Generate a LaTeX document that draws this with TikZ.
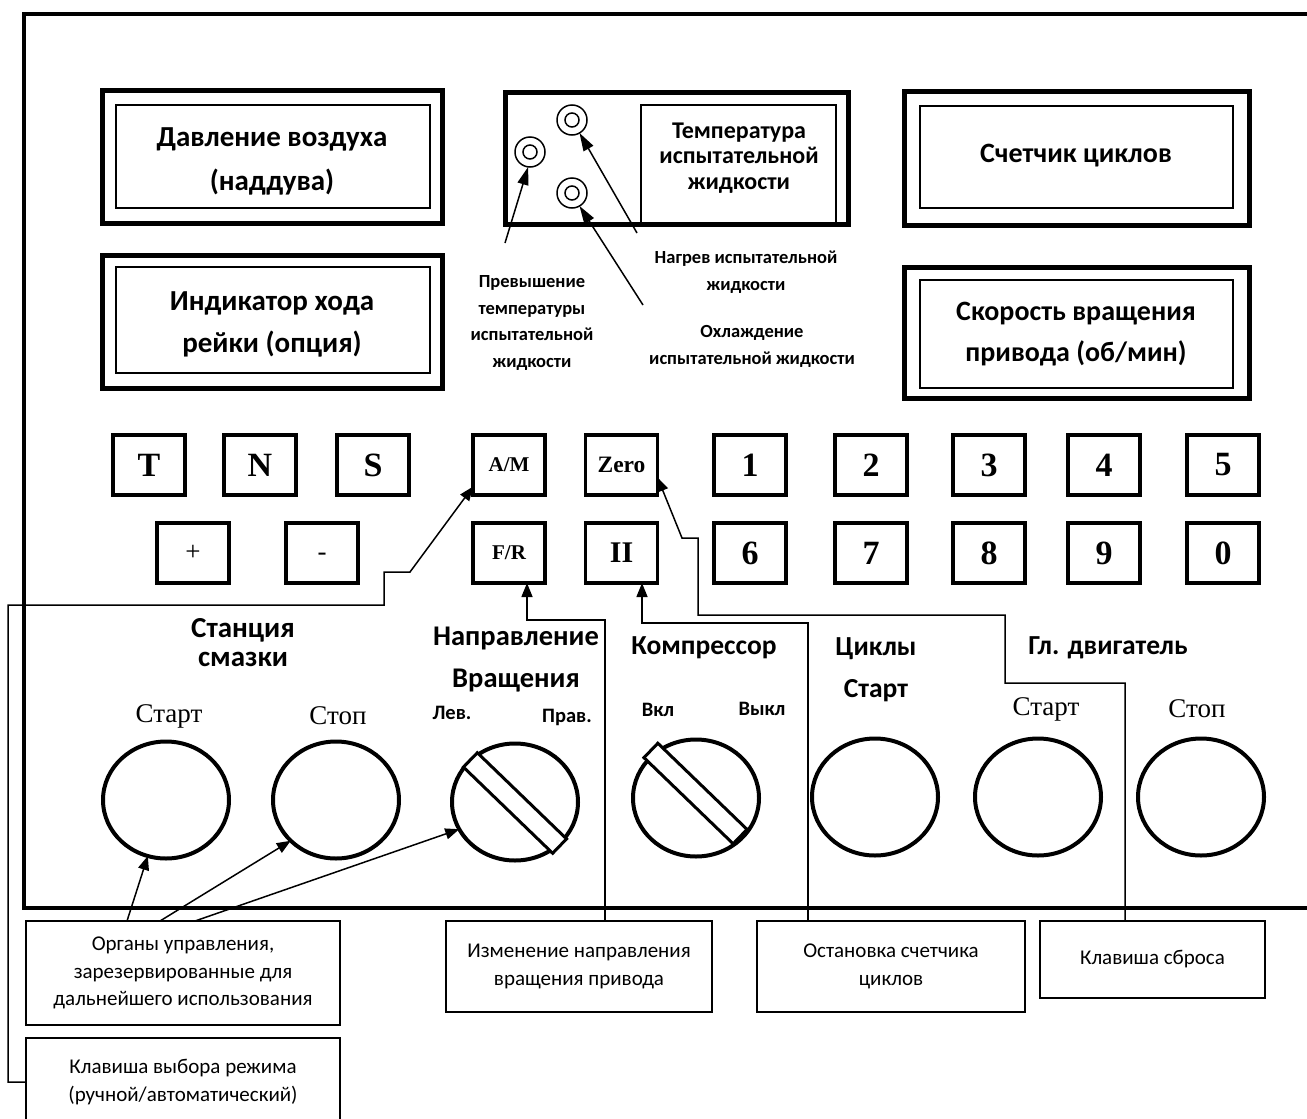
\documentclass[tikz,border=0pt]{standalone}
\usepackage{fontspec}
\setmainfont{Carlito}
\newfontfamily\serif{Liberation Serif}
\usetikzlibrary{arrows.meta,calc,shapes.geometric}
\begin{document}
\begin{tikzpicture}[x=1pt,y=-1pt,
  every node/.style={inner sep=0pt,outer sep=0pt},
  dispout/.style={draw,line width=5pt},
  dispin/.style={draw,line width=1.5pt},
  headtxt/.style={align=center,font=\bfseries\fontsize{29}{44}\selectfont},
  smalltxt/.style={align=center,font=\bfseries\fontsize{18.5}{27}\selectfont},
  key/.style={draw,line width=3.5pt,minimum width=72pt,minimum height=60pt},
  bigkey/.style={key,font=\serif\bfseries\fontsize{34}{34}\selectfont},
  midkey/.style={key,font=\serif\bfseries\fontsize{21}{21}\selectfont},
  pmtxt/.style={anchor=base,font=\serif\fontsize{27}{27}\selectfont},
  knob/.style={draw,ellipse,line width=4pt,minimum width=126pt,minimum height=117pt},
  slot/.style={draw,fill=white,line width=3pt,minimum width=124pt,minimum height=20pt,rotate=-44},
  lamp/.style={draw,circle,line width=1.5pt},
  grouptxt/.style={align=center,font=\bfseries\fontsize{27.5}{29}\selectfont},
  sertxt/.style={font=\serif\fontsize{27}{27}\selectfont},
  postxt/.style={font=\bfseries\fontsize{20.5}{20.5}\selectfont},
  note/.style={draw,line width=2pt,align=center,font=\fontsize{21}{27.5}\selectfont},
  conn/.style={line width=1.5pt},
  arr/.style={conn,-{Triangle[length=14pt,width=11pt]}},
  bigarr/.style={conn,-{Triangle[length=18pt,width=11pt]}}
]
\useasboundingbox (0,0) rectangle (1307,1119);
% panel frame
\draw[line width=4pt] (24,14) rectangle (1345,908);

% displays
\node[dispout,minimum width=340pt,minimum height=133pt] (d1o) at (272,156.5) {};
\node[dispin,minimum width=314pt,minimum height=103pt] (d1i) at (273,156.5) {};
\node[headtxt] (d1t) at (272,161) {Давление воздуха\\(наддува)};

\node[dispout,minimum width=340pt,minimum height=133pt] (d2o) at (272,321.5) {};
\node[dispin,minimum width=314pt,minimum height=106pt] (d2i) at (273,320) {};
\node[headtxt,font=\bfseries\fontsize{29}{42}\selectfont] (d2t) at (272,324) {Индикатор хода\\рейки (опция)};

\node[dispout,minimum width=345pt,minimum height=134pt] (d3o) at (1076.5,158) {};
\node[dispin,minimum width=313pt,minimum height=102pt] (d3i) at (1076.5,157) {};
\node[headtxt,font=\bfseries\fontsize{28}{44}\selectfont] (d3t) at (1076,156) {Счетчик циклов};

\node[dispout,minimum width=345pt,minimum height=131pt] (d4o) at (1076.5,332.5) {};
\node[dispin,minimum width=313pt,minimum height=108pt] (d4i) at (1076.5,334) {};
\node[headtxt,font=\bfseries\fontsize{28}{41}\selectfont] (d4t) at (1076,334) {Скорость вращения\\привода (об/мин)};

% temperature display
\node[dispout,minimum width=343pt,minimum height=132pt] (tdo) at (676.5,158) {};
\node[dispin,minimum width=195pt,minimum height=119pt] (tdi) at (738.5,164.5) {};
\node[align=center,font=\bfseries\fontsize{24}{25.5}\selectfont] (tdt) at (739,158) {Температура\\испытательной\\жидкости};

\node[lamp,minimum size=30pt] (c1) at (530,152) {};
\node[lamp,minimum size=14pt] (c1i) at (530,152) {};
\node[lamp,minimum size=30pt] (c2) at (572,120) {};
\node[lamp,minimum size=14pt] (c2i) at (572,120) {};
\node[lamp,minimum size=30pt] (c3) at (572,193) {};
\node[lamp,minimum size=14pt] (c3i) at (572,193) {};

\coordinate (pa) at (505,243);
\coordinate (pb) at (637,233);
\coordinate (pc) at (643,305);
\draw[bigarr] (pa) -- (c1.263);
\draw[bigarr] (pb) -- (c2.-60);
\draw[bigarr] (pc) -- (c3.-60);

\node[smalltxt,font=\bfseries\fontsize{18.5}{26.7}\selectfont] (l1) at (532,323) {Превышение\\температуры\\испытательной\\жидкости};
\node[smalltxt] (l2) at (746,272) {Нагрев испытательной\\жидкости};
\node[smalltxt] (l3) at (752,346) {Охлаждение\\испытательной жидкости};

% keys row 1
\node[bigkey] (kT) at (149,465) {T};
\node[bigkey] (kN) at (260,465) {N};
\node[bigkey] (kS) at (373,465) {S};
\node[midkey] (am) at (509,465) {A/M};
\node[midkey,font=\serif\bfseries\fontsize{23.5}{23.5}\selectfont] (zero) at (621.5,465) {Zero};
\node[bigkey] (k1) at (750,465) {1};
\node[bigkey] (k2) at (871,465) {2};
\node[bigkey] (k3) at (989,465) {3};
\node[bigkey] (k4) at (1104,465) {4};
\node[bigkey] (k5) at (1223,465) {5};
% keys row 2
\node[key] (kplus) at (193,553) {};
\node[pmtxt] (kplust) at ($(kplus.center)+(0,7)$) {+};
\node[key] (kminus) at (322,553) {};
\node[pmtxt] (kminust) at ($(kminus.center)+(0,7)$) {-};
\node[midkey] (fr) at (509,553) {F/R};
\node[bigkey,font=\serif\bfseries\fontsize{30}{30}\selectfont] (ii) at (621.5,553) {II};
\node[bigkey] (k6) at (750,553) {6};
\node[bigkey] (k7) at (871,553) {7};
\node[bigkey] (k8) at (989,553) {8};
\node[bigkey] (k9) at (1104,553) {9};
\node[bigkey] (k0) at (1223,553) {0};

% group labels
\node[grouptxt,font=\bfseries\fontsize{29}{29}\selectfont] (gst) at (243,643) {Станция\\смазки};
\node[grouptxt,font=\bfseries\fontsize{28.5}{42}\selectfont] (gdir) at (516,660) {Направление\\Вращения};
\node[grouptxt] (gcomp) at (704,648) {Компрессор};
\node[grouptxt,font=\bfseries\fontsize{27.5}{42}\selectfont] (gcyc) at (876,670) {Циклы\\Старт};
\node[grouptxt] (gmot) at (1108,648) {Гл. двигатель};

\node[sertxt] (s1) at (169,716) {Старт};
\node[sertxt] (s2) at (338,716) {Стоп};
\node[postxt] (plev) at (452,713) {Лев.};
\node[postxt] (ppr) at (567,717) {Прав.};
\node[postxt] (pon) at (658,710) {Вкл};
\node[postxt] (poff) at (762,709) {Выкл};
\node[sertxt] (s3) at (1046,709) {Старт};
\node[sertxt] (s4) at (1197,709) {Стоп};

% knobs
\node[knob] (kst) at (166,800) {};
\node[knob] (ksp) at (336,800) {};
\node[knob] (kdir) at (515,802) {};
\node[slot] (sdir) at (515,803) {};
\node[knob] (kcomp) at (696,798) {};
\node[slot] (scomp) at (695.5,793.5) {};
\node[knob] (kcyc) at (875,797) {};
\node[knob] (kms) at (1038,797) {};
\node[knob] (kmp) at (1201,797) {};

% callout boxes
\node[note,minimum width=314pt,minimum height=104pt] (borg) at (183,973) {Органы управления,\\зарезервированные для\\дальнейшего использования};
\node[note,minimum width=314pt,minimum height=88pt] (bmode) at (183,1082) {Клавиша выбора режима\\(ручной/автоматический)};
\node[note,minimum width=266pt,minimum height=91pt] (bchg) at (579,966.5) {Изменение направления\\вращения привода};
\node[note,minimum width=268pt,minimum height=91pt] (bstop) at (891,966.5) {Остановка счетчика\\циклов};
\node[note,minimum width=225pt,minimum height=77pt] (breset) at (1152.5,959.5) {Клавиша сброса};

% connectors
\draw[arr] ($(borg.north)+(-56,0)$) -- (kst.252);
\draw[arr] ($(borg.north)+(-23,0)$) -- (ksp.222);
\draw[arr] ($(borg.north)+(12,0)$) -- (kdir.206);

\coordinate (amA) at (384,605);
\coordinate (amB) at (410,572);
\draw[arr] (bmode.west) -- ++(-18,0) |- (amA) |- (amB) -- (am.211);

\coordinate (frB) at (527,620);
\draw[arr] ($(bchg.north)+(26,0)$) |- (frB) -- (frB |- fr.south);

\coordinate (iiB) at (642,623);
\draw[arr] ($(bstop.north)+(-83,0)$) |- (iiB) -- (iiB |- ii.south);

\coordinate (zA) at (1005,683);
\coordinate (zB) at (698,615);
\coordinate (zC) at (682,538);
\draw[arr] ($(breset.north)+(-27.5,0)$) |- (zA) |- (zB) |- (zC) -- (zero.-19);
\end{tikzpicture}
\end{document}
